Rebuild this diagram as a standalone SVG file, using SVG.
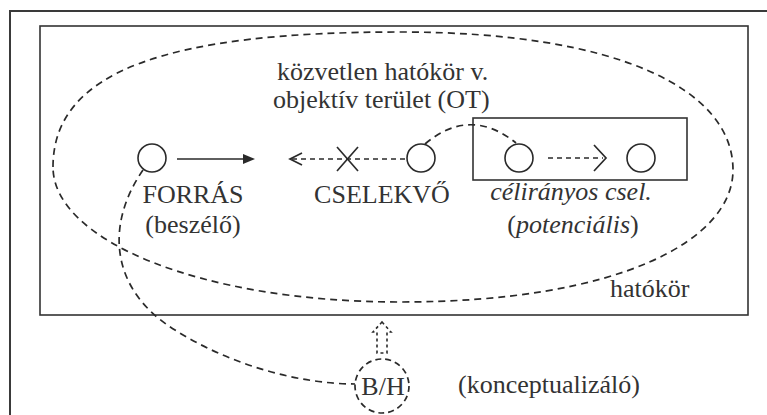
<svg xmlns="http://www.w3.org/2000/svg" width="767" height="415" viewBox="0 0 767 415">
<style>
.frame{fill:none;stroke:#3a3a3a;stroke-width:2}
.box{fill:none;stroke:#333;stroke-width:1.6}
.node{fill:none;stroke:#2a2a2a;stroke-width:1.6}
.dash{fill:none;stroke:#2a2a2a;stroke-width:1.7;stroke-dasharray:7 5}
.sdash{fill:none;stroke:#2a2a2a;stroke-width:1.6;stroke-dasharray:5 4}
.solid{fill:none;stroke:#2a2a2a;stroke-width:1.7}
text{font-family:"Liberation Serif","Times New Roman",serif;font-size:26px;fill:#333}
.it{font-style:italic}
</style>
<rect width="767" height="415" fill="#fff"/>
<rect class="frame" x="10" y="11" width="775" height="420"/>
<g id="hatokor">
<rect class="box" x="40" y="26" width="708" height="289"/>
<text x="610" y="297">hatókör</text>
</g>
<g id="ot">
<path class="dash" d="M53,167 C53,70 170,32 400,32 C620,32 733,90 733,170 C733,240 620,302 400,302 C200,302 53,240 53,167 Z"/>
<text x="277" y="80">közvetlen hatókör v.</text>
<text x="273" y="108">objektív terület (OT)</text>
</g>
<g id="forras">
<circle class="node" cx="152" cy="158" r="14"/>
<text x="193" y="203" text-anchor="middle">FORRÁS</text>
<text x="193" y="233" text-anchor="middle">(beszélő)</text>
</g>
<g id="cselekvo">
<circle class="node" cx="421" cy="158" r="14"/>
<text x="382" y="203" text-anchor="middle">CSELEKVŐ</text>
</g>
<g id="celiranyos">
<rect class="box" x="473" y="118" width="214" height="62"/>
<circle class="node" cx="519" cy="158" r="14"/>
<circle class="node" cx="641" cy="158" r="14"/>
<text class="it" x="571" y="200" text-anchor="middle">célirányos csel.</text>
<text x="573" y="233" text-anchor="middle">(<tspan class="it">potenciális</tspan>)</text>
</g>
<g id="bh">
<circle class="dash" style="stroke-dasharray:6 4" cx="382" cy="386" r="27"/>
<text x="383" y="395" text-anchor="middle">B/H</text>
<text x="458" y="393">(konceptualizáló)</text>
</g>
<g id="connectors">
<line class="solid" x1="177" y1="159" x2="246" y2="159"/>
<polygon points="243,154 255,159 243,164" fill="#2a2a2a"/>
<line class="sdash" x1="292" y1="159" x2="406" y2="159"/>
<polyline class="solid" points="302,153 290,159 302,165"/>
<line class="solid" x1="337" y1="147" x2="358" y2="171"/>
<line class="solid" x1="358" y1="147" x2="337" y2="171"/>
<path class="dash" d="M425,144 Q470,106 516,143"/>
<line class="sdash" x1="548" y1="158" x2="603" y2="158"/>
<polyline class="solid" points="594,145 606,158 594,171"/>
<path class="dash" d="M143,170 C105,225 110,290 175,330 C230,365 300,384 355,384"/>
<path class="sdash" style="stroke-dasharray:3 3" d="M382,322 L391,332 L387,332 L387,353 L377,353 L377,332 L373,332 Z"/>
</g>
</svg>
